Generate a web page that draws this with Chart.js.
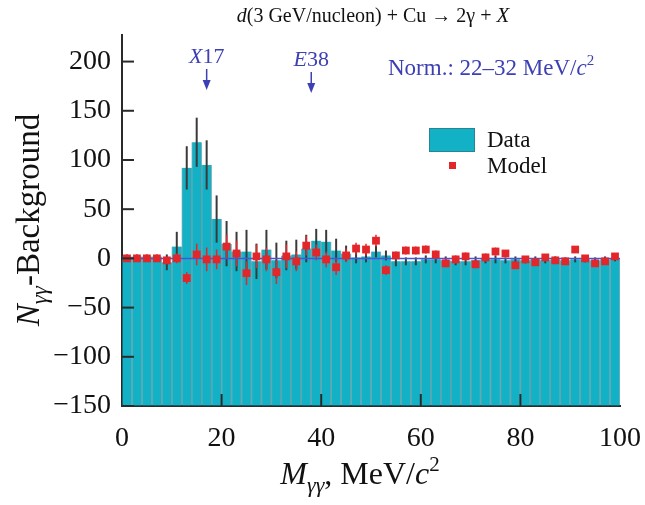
<!DOCTYPE html>
<html>
<head>
<meta charset="utf-8">
<script src="https://cdn.jsdelivr.net/npm/chart.js@4.4.1/dist/chart.umd.min.js"></script>
<style>
  html, body { margin: 0; padding: 0; background: #fff; }
  #wrap { width: 645px; height: 505px; }
</style>
</head>
<body>
<div id="wrap"><canvas id="chart" width="645" height="505"></canvas></div>
<script>
'use strict';

// bin centres, MeV/c^2 (2 MeV bins)
const binCenters = [1, 3, 5, 7, 9, 11, 13, 15, 17, 19, 21, 23, 25, 27, 29, 31, 33, 35, 37, 39,
                    41, 43, 45, 47, 49, 51, 53, 55, 57, 59, 61, 63, 65, 67, 69, 71, 73, 75, 77, 79,
                    81, 83, 85, 87, 89, 91, 93, 95, 97, 99];

const dataValues = [2, 2, 2, 2, -4, 12, 92, 118, 95, 40, 15, 7, 7, -3, 9, -2, 3, 4, 10, 18,
                    17, 8, 5, 1, 2, 7, 3, -3, -3, -3, -1, -1, -2, -3, -3, -2, -1, -1, -2, -1,
                    -2, -1, -2, -1, -2, -1, -1, -2, -1, 0];
const dataErrors = [2, 2, 2, 2, 8, 15, 22, 25, 25, 24, 23, 20, 22, 18, 20, 18, 15, 15, 14, 12,
                    12, 12, 8, 6, 6, 6, 5, 5, 4, 4, 4, 4, 4, 4, 4, 4, 4, 4, 3, 3,
                    3, 3, 3, 3, 3, 3, 3, 3, 3, 3];

const modelValues = [0, 0, 0, 0, -2, 0, -20, 4, -1, -1, 12, 5, -15, 2, -1, -14, 2, -3, 13, 6,
                     -1, -9, 3, 10, 9, 18, -12, 3, 8, 8, 9, 4, -5, -1, 2, -6, 1, 7, 5, -7,
                     -1, -4, 1, -2, -3, 9, 0, -5, -3, 2];
const modelErrors = [2, 2, 2, 2, 3, 5, 6, 11, 12, 10, 12, 13, 12, 12, 12, 12, 12, 10, 10, 8,
                     8, 8, 7, 6, 6, 6, 5, 4, 4, 4, 4, 4, 4, 4, 4, 4, 4, 4, 3, 3,
                     3, 3, 3, 3, 3, 3, 3, 3, 3, 3];

const xTicks = [0, 20, 40, 60, 80, 100];
const yTicks = [-150, -100, -50, 0, 50, 100, 150, 200];
const yBottom = -150;
const markers = [{ name: 'X', num: '17', at: 17 }, { name: 'E', num: '38', at: 38 }];

const SERIF = "'Liberation Serif', 'DejaVu Serif', serif";
const TEAL = '#12b1c5';
const BLUE = '#3d40b4';
const RED = '#e3262a';

// draws a run of text pieces: {t, size, italic, dy}
function richText(ctx, parts, x, y, align) {
    let total = 0;
    parts.forEach(p => {
        ctx.font = (p.italic ? 'italic ' : '') + p.size + 'px ' + SERIF;
        p.w = ctx.measureText(p.t).width;
        total += p.w;
    });
    let cx = align === 'center' ? x - total / 2 : (align === 'right' ? x - total : x);
    ctx.textAlign = 'left';
    ctx.textBaseline = 'alphabetic';
    parts.forEach(p => {
        ctx.font = (p.italic ? 'italic ' : '') + p.size + 'px ' + SERIF;
        ctx.fillText(p.t, cx, y + (p.dy || 0));
        cx += p.w;
    });
}

const errorBars = {
    id: 'errorBars',
    afterDatasetDraw(chart, args) {
        if (args.index !== 0) return;
        const ctx = chart.ctx, xs = chart.scales.x, ys = chart.scales.y;
        ctx.save();
        ctx.lineWidth = 2;
        ctx.strokeStyle = '#3a3a3a';
        binCenters.forEach((c, i) => {
            const px = xs.getPixelForValue(c);
            ctx.beginPath();
            ctx.moveTo(px, ys.getPixelForValue(dataValues[i] - dataErrors[i]));
            ctx.lineTo(px, ys.getPixelForValue(dataValues[i] + dataErrors[i]));
            ctx.stroke();
        });
        ctx.lineWidth = 1.5;
        ctx.strokeStyle = RED;
        binCenters.forEach((c, i) => {
            const px = xs.getPixelForValue(c);
            ctx.beginPath();
            ctx.moveTo(px, ys.getPixelForValue(modelValues[i] - modelErrors[i]));
            ctx.lineTo(px, ys.getPixelForValue(modelValues[i] + modelErrors[i]));
            ctx.stroke();
        });
        ctx.restore();
    }
};

const decorations = {
    id: 'decorations',
    afterDraw(chart) {
        const ctx = chart.ctx, xs = chart.scales.x, ys = chart.scales.y, a = chart.chartArea;
        ctx.save();

        // inward tick marks
        ctx.strokeStyle = '#2a2a2a';
        ctx.lineWidth = 2;
        yTicks.forEach(v => {
            const py = ys.getPixelForValue(v);
            ctx.beginPath(); ctx.moveTo(a.left, py); ctx.lineTo(a.left + 12, py); ctx.stroke();
        });
        xTicks.slice(1, -1).forEach(v => {
            const px = xs.getPixelForValue(v);
            ctx.beginPath(); ctx.moveTo(px, a.bottom); ctx.lineTo(px, a.bottom - 12); ctx.stroke();
        });

        // title
        ctx.fillStyle = '#111';
        richText(ctx, [
            { t: 'd', size: 20, italic: true },
            { t: '(3 GeV/nucleon) + Cu \u2192 2\u03b3 + ', size: 20 },
            { t: 'X', size: 21, italic: true }
        ], 373, 22, 'center');

        // X17 / E38 markers
        ctx.fillStyle = BLUE;
        ctx.strokeStyle = BLUE;
        ctx.lineWidth = 1.5;
        markers.forEach((m, k) => {
            const px = xs.getPixelForValue(m.at);
            const base = k === 0 ? 63 : 66;
            richText(ctx, [{ t: m.name, size: 22, italic: true }, { t: m.num, size: 22 }], px, base, 'center');
            ctx.beginPath(); ctx.moveTo(px, base + 6); ctx.lineTo(px, base + 19); ctx.stroke();
            ctx.beginPath();
            ctx.moveTo(px - 4, base + 17); ctx.lineTo(px + 4, base + 17); ctx.lineTo(px, base + 27);
            ctx.closePath(); ctx.fill();
        });
        richText(ctx, [
            { t: 'Norm.: 22\u201332 MeV/', size: 23 },
            { t: 'c', size: 23, italic: true },
            { t: '2', size: 15, dy: -10 }
        ], 388, 75, 'left');

        // legend
        ctx.fillStyle = TEAL;
        ctx.fillRect(429, 128, 46, 24);
        ctx.strokeStyle = '#2a8592';
        ctx.lineWidth = 1;
        ctx.strokeRect(429.5, 128.5, 45, 23);
        ctx.fillStyle = RED;
        ctx.fillRect(449, 162, 7, 7);
        ctx.fillStyle = '#111';
        richText(ctx, [{ t: 'Data', size: 23 }], 487, 147, 'left');
        richText(ctx, [{ t: 'Model', size: 23 }], 487, 173, 'left');

        // axis titles
        richText(ctx, [
            { t: 'M', size: 32, italic: true },
            { t: '\u03b3\u03b3', size: 22, italic: true, dy: 8 },
            { t: ', MeV/', size: 32 },
            { t: 'c', size: 32, italic: true },
            { t: '2', size: 21, dy: -13 }
        ], 360, 484, 'center');

        ctx.translate(39, 220);
        ctx.rotate(-Math.PI / 2);
        richText(ctx, [
            { t: 'N', size: 33, italic: true },
            { t: '\u03b3\u03b3', size: 23, italic: true, dy: 8 },
            { t: '-Background', size: 33 }
        ], 0, 0, 'center');
        ctx.restore();
    }
};

new Chart(document.getElementById('chart').getContext('2d'), {
    type: 'bar',
    data: {
        datasets: [{
            type: 'bar',
            label: 'Data',
            data: binCenters.map((c, i) => ({ x: c, y: [yBottom, dataValues[i]] })),
            backgroundColor: TEAL,
            borderColor: 'rgba(10, 95, 110, 0.5)',
            borderWidth: 1,
            barPercentage: 1,
            categoryPercentage: 1,
            grouped: false,
            order: 3
        }, {
            type: 'line',
            label: 'zero',
            data: [{ x: xTicks[0], y: 0 }, { x: xTicks[xTicks.length - 1], y: 0 }],
            borderColor: '#4a55d6',
            borderWidth: 1.5,
            pointRadius: 0,
            order: 2
        }, {
            type: 'scatter',
            label: 'Model',
            data: binCenters.map((c, i) => ({ x: c, y: modelValues[i] })),
            pointStyle: 'rect',
            pointRadius: 5.5,
            backgroundColor: RED,
            borderWidth: 0,
            order: 1
        }]
    },
    options: {
        responsive: false,
        animation: false,
        devicePixelRatio: 1,
        layout: { padding: { left: 0, top: 35, right: 25, bottom: 0 } },
        plugins: { legend: { display: false }, tooltip: { enabled: false } },
        scales: {
            x: {
                type: 'linear',
                min: 0,
                max: 100,
                offset: false,
                afterBuildTicks: s => { s.ticks = xTicks.map(v => ({ value: v })); },
                afterFit: s => { s.height = 99; s.paddingRight = 0; s.paddingLeft = 0; },
                grid: { display: false, drawTicks: false },
                border: { color: '#2a2a2a', width: 2 },
                ticks: { color: '#111', padding: 16, maxRotation: 0, font: { family: SERIF, size: 28 } }
            },
            y: {
                min: yBottom,
                max: 227,
                afterBuildTicks: s => { s.ticks = yTicks.map(v => ({ value: v })); },
                afterFit: s => { s.width = 122; s.paddingTop = 0; s.paddingBottom = 0; },
                grid: { display: false, drawTicks: false },
                border: { color: '#2a2a2a', width: 2 },
                ticks: {
                    color: '#111',
                    padding: 11,
                    font: { family: SERIF, size: 28 },
                    callback: v => String(v).replace('-', '\u2212')
                }
            }
        }
    },
    plugins: [errorBars, decorations]
});
</script>
</body>
</html>
